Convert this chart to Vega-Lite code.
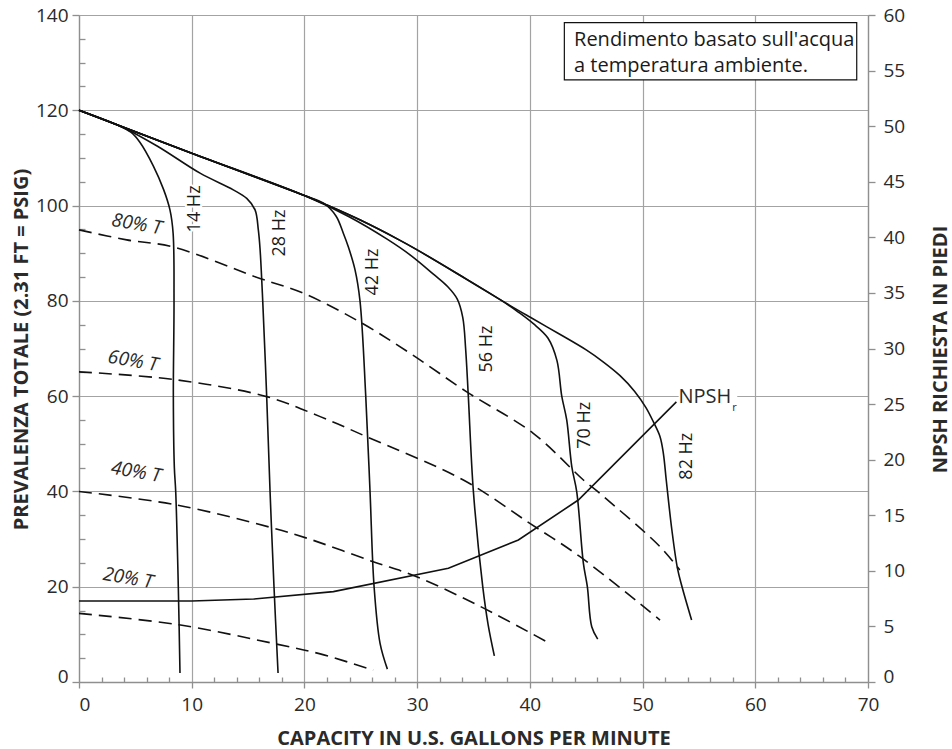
{
  "$schema": "https://vega.github.io/schema/vega-lite/v6.json",
  "width": 789,
  "height": 667,
  "autosize": {"type": "none"},
  "padding": {"left": 79, "top": 15, "right": 84, "bottom": 67},
  "background": "white",
  "config": {
    "view": {"stroke": null},
    "font": "Open Sans",
    "axis": {
      "labelFont": "Open Sans", "labelFontSize": 19, "labelColor": "#2a2a2a",
      "titleFont": "Open Sans", "titleFontSize": 20, "titleFontWeight": "bold", "titleColor": "#2a2a2a",
      "domainColor": "#8f8f8f", "tickColor": "#8f8f8f", "gridColor": "#a3a3a3",
      "domainWidth": 1.3, "tickWidth": 1.3, "gridWidth": 1.2, "labelOverlap": false, "labelFlush": false
    }
  },
  "datasets": {
    "hz": [
      {"curve": "14 Hz", "i": 0, "x": 0, "y": 120}, {"curve": "14 Hz", "i": 1, "x": 3.5, "y": 116.8}, {"curve": "14 Hz", "i": 2, "x": 4.6, "y": 115.4}, {"curve": "14 Hz", "i": 3, "x": 5.4, "y": 113.3}, {"curve": "14 Hz", "i": 4, "x": 6.6, "y": 108.3}, {"curve": "14 Hz", "i": 5, "x": 7.5, "y": 103.4}, {"curve": "14 Hz", "i": 6, "x": 8.07, "y": 99.1}, {"curve": "14 Hz", "i": 7, "x": 8.35, "y": 94.2}, {"curve": "14 Hz", "i": 8, "x": 8.43, "y": 80}, {"curve": "14 Hz", "i": 9, "x": 8.37, "y": 60}, {"curve": "14 Hz", "i": 10, "x": 8.46, "y": 45}, {"curve": "14 Hz", "i": 11, "x": 8.58, "y": 40}, {"curve": "14 Hz", "i": 12, "x": 8.81, "y": 20}, {"curve": "14 Hz", "i": 13, "x": 8.96, "y": 1.9},
      {"curve": "28 Hz", "i": 0, "x": 0, "y": 120}, {"curve": "28 Hz", "i": 1, "x": 3.9, "y": 116.4}, {"curve": "28 Hz", "i": 2, "x": 7, "y": 112.4}, {"curve": "28 Hz", "i": 3, "x": 10.74, "y": 106.8}, {"curve": "28 Hz", "i": 4, "x": 13.69, "y": 103.3}, {"curve": "28 Hz", "i": 5, "x": 14.88, "y": 101.5}, {"curve": "28 Hz", "i": 6, "x": 15.62, "y": 99.1}, {"curve": "28 Hz", "i": 7, "x": 15.91, "y": 94.9}, {"curve": "28 Hz", "i": 8, "x": 16.06, "y": 91}, {"curve": "28 Hz", "i": 9, "x": 16.3, "y": 80}, {"curve": "28 Hz", "i": 10, "x": 16.65, "y": 60}, {"curve": "28 Hz", "i": 11, "x": 16.95, "y": 40}, {"curve": "28 Hz", "i": 12, "x": 17.3, "y": 20}, {"curve": "28 Hz", "i": 13, "x": 17.66, "y": 1.9},
      {"curve": "42 Hz", "i": 0, "x": 0, "y": 120}, {"curve": "42 Hz", "i": 1, "x": 10, "y": 111}, {"curve": "42 Hz", "i": 2, "x": 20, "y": 102.1}, {"curve": "42 Hz", "i": 3, "x": 21.7, "y": 100.5}, {"curve": "42 Hz", "i": 4, "x": 22.8, "y": 97.8}, {"curve": "42 Hz", "i": 5, "x": 23.45, "y": 94.2}, {"curve": "42 Hz", "i": 6, "x": 23.9, "y": 91.3}, {"curve": "42 Hz", "i": 7, "x": 24.49, "y": 86.5}, {"curve": "42 Hz", "i": 8, "x": 24.93, "y": 80}, {"curve": "42 Hz", "i": 9, "x": 25.44, "y": 60}, {"curve": "42 Hz", "i": 10, "x": 25.82, "y": 40}, {"curve": "42 Hz", "i": 11, "x": 26.18, "y": 20}, {"curve": "42 Hz", "i": 12, "x": 26.71, "y": 8.1}, {"curve": "42 Hz", "i": 13, "x": 27.36, "y": 2.7},
      {"curve": "56 Hz", "i": 0, "x": 0, "y": 120}, {"curve": "56 Hz", "i": 1, "x": 10, "y": 111}, {"curve": "56 Hz", "i": 2, "x": 20, "y": 102.1}, {"curve": "56 Hz", "i": 3, "x": 24, "y": 97.6}, {"curve": "56 Hz", "i": 4, "x": 27.3, "y": 93}, {"curve": "56 Hz", "i": 5, "x": 29.4, "y": 89.6}, {"curve": "56 Hz", "i": 6, "x": 31.44, "y": 85.6}, {"curve": "56 Hz", "i": 7, "x": 32.7, "y": 83}, {"curve": "56 Hz", "i": 8, "x": 33.55, "y": 80.4}, {"curve": "56 Hz", "i": 9, "x": 34.05, "y": 76.5}, {"curve": "56 Hz", "i": 10, "x": 34.3, "y": 70}, {"curve": "56 Hz", "i": 11, "x": 34.54, "y": 60}, {"curve": "56 Hz", "i": 12, "x": 34.99, "y": 40}, {"curve": "56 Hz", "i": 13, "x": 35.82, "y": 20}, {"curve": "56 Hz", "i": 14, "x": 36.3, "y": 12}, {"curve": "56 Hz", "i": 15, "x": 36.85, "y": 5.5},
      {"curve": "70 Hz", "i": 0, "x": 0, "y": 120}, {"curve": "70 Hz", "i": 1, "x": 10, "y": 111}, {"curve": "70 Hz", "i": 2, "x": 20, "y": 102.1}, {"curve": "70 Hz", "i": 3, "x": 22, "y": 100.1}, {"curve": "70 Hz", "i": 4, "x": 25, "y": 96.9}, {"curve": "70 Hz", "i": 5, "x": 28.4, "y": 92.8}, {"curve": "70 Hz", "i": 6, "x": 30, "y": 90.7}, {"curve": "70 Hz", "i": 7, "x": 33.5, "y": 85.8}, {"curve": "70 Hz", "i": 8, "x": 37.4, "y": 80.2}, {"curve": "70 Hz", "i": 9, "x": 39, "y": 77.6}, {"curve": "70 Hz", "i": 10, "x": 40.31, "y": 75.2}, {"curve": "70 Hz", "i": 11, "x": 41.6, "y": 72.2}, {"curve": "70 Hz", "i": 12, "x": 42.4, "y": 67.5}, {"curve": "70 Hz", "i": 13, "x": 42.83, "y": 60}, {"curve": "70 Hz", "i": 14, "x": 43.27, "y": 55}, {"curve": "70 Hz", "i": 15, "x": 43.72, "y": 45.2}, {"curve": "70 Hz", "i": 16, "x": 44.16, "y": 39.9}, {"curve": "70 Hz", "i": 17, "x": 44.75, "y": 24.9}, {"curve": "70 Hz", "i": 18, "x": 45.1, "y": 20}, {"curve": "70 Hz", "i": 19, "x": 45.49, "y": 11.6}, {"curve": "70 Hz", "i": 20, "x": 46.02, "y": 9.0},
      {"curve": "82 Hz", "i": 0, "x": 0, "y": 120}, {"curve": "82 Hz", "i": 1, "x": 10, "y": 111}, {"curve": "82 Hz", "i": 2, "x": 20, "y": 102.1}, {"curve": "82 Hz", "i": 3, "x": 22, "y": 100.1}, {"curve": "82 Hz", "i": 4, "x": 25, "y": 96.9}, {"curve": "82 Hz", "i": 5, "x": 28.4, "y": 92.8}, {"curve": "82 Hz", "i": 6, "x": 30, "y": 90.7}, {"curve": "82 Hz", "i": 7, "x": 33.5, "y": 85.8}, {"curve": "82 Hz", "i": 8, "x": 37.4, "y": 80.2}, {"curve": "82 Hz", "i": 9, "x": 40, "y": 76.6}, {"curve": "82 Hz", "i": 10, "x": 42.5, "y": 73.2}, {"curve": "82 Hz", "i": 11, "x": 45, "y": 69.7}, {"curve": "82 Hz", "i": 12, "x": 46.5, "y": 67.2}, {"curve": "82 Hz", "i": 13, "x": 48, "y": 64.3}, {"curve": "82 Hz", "i": 14, "x": 49.3, "y": 61}, {"curve": "82 Hz", "i": 15, "x": 50.3, "y": 57.6}, {"curve": "82 Hz", "i": 16, "x": 50.96, "y": 54.6}, {"curve": "82 Hz", "i": 17, "x": 51.55, "y": 51.5}, {"curve": "82 Hz", "i": 18, "x": 51.85, "y": 47.9}, {"curve": "82 Hz", "i": 19, "x": 52.1, "y": 42.4}, {"curve": "82 Hz", "i": 20, "x": 52.6, "y": 31.9}, {"curve": "82 Hz", "i": 21, "x": 53.1, "y": 23.8}, {"curve": "82 Hz", "i": 22, "x": 53.5, "y": 20}, {"curve": "82 Hz", "i": 23, "x": 54.35, "y": 13}
    ],
    "eff": [
      {"curve": "80% T", "i": 0, "x": 0, "y": 94.9}, {"curve": "80% T", "i": 1, "x": 4.23, "y": 92.8}, {"curve": "80% T", "i": 2, "x": 8.37, "y": 91.3}, {"curve": "80% T", "i": 3, "x": 16.06, "y": 84.7}, {"curve": "80% T", "i": 4, "x": 19.9, "y": 81.6}, {"curve": "80% T", "i": 5, "x": 24.9, "y": 75.6}, {"curve": "80% T", "i": 6, "x": 29.37, "y": 69}, {"curve": "80% T", "i": 7, "x": 34.4, "y": 60.9}, {"curve": "80% T", "i": 8, "x": 40.3, "y": 52.2}, {"curve": "80% T", "i": 9, "x": 44.75, "y": 42.4}, {"curve": "80% T", "i": 10, "x": 46.2, "y": 39.6}, {"curve": "80% T", "i": 11, "x": 51.55, "y": 28.4}, {"curve": "80% T", "i": 12, "x": 53.3, "y": 23.5},
      {"curve": "60% T", "i": 0, "x": 0, "y": 65.1}, {"curve": "60% T", "i": 1, "x": 8.37, "y": 63.5}, {"curve": "60% T", "i": 2, "x": 16.65, "y": 59.9}, {"curve": "60% T", "i": 3, "x": 21.4, "y": 55.7}, {"curve": "60% T", "i": 4, "x": 25.5, "y": 51.5}, {"curve": "60% T", "i": 5, "x": 34.1, "y": 42.4}, {"curve": "60% T", "i": 6, "x": 40, "y": 33.3}, {"curve": "60% T", "i": 7, "x": 44.45, "y": 26.3}, {"curve": "60% T", "i": 8, "x": 51.55, "y": 13},
      {"curve": "40% T", "i": 0, "x": 0, "y": 40}, {"curve": "40% T", "i": 1, "x": 8.58, "y": 37.2}, {"curve": "40% T", "i": 2, "x": 17.24, "y": 32.3}, {"curve": "40% T", "i": 3, "x": 20.2, "y": 30.2}, {"curve": "40% T", "i": 4, "x": 26.1, "y": 25.25}, {"curve": "40% T", "i": 5, "x": 29.96, "y": 22.1}, {"curve": "40% T", "i": 6, "x": 35.9, "y": 15.5}, {"curve": "40% T", "i": 7, "x": 41.6, "y": 8.3},
      {"curve": "20% T", "i": 0, "x": 0, "y": 14.4}, {"curve": "20% T", "i": 1, "x": 8.87, "y": 12}, {"curve": "20% T", "i": 2, "x": 17.24, "y": 8.1}, {"curve": "20% T", "i": 3, "x": 21.4, "y": 5.9}, {"curve": "20% T", "i": 4, "x": 26.1, "y": 2.5}
    ],
    "npsh": [
      {"x": 0, "n": 7.29}, {"x": 10, "n": 7.29}, {"x": 15.5, "n": 7.46}, {"x": 22.57, "n": 8.13}, {"x": 32.77, "n": 10.23}, {"x": 38.98, "n": 12.77}, {"x": 44.3, "n": 16.37}, {"x": 53, "n": 25.2}
    ],
    "hzlab": [
      {"label": "14 Hz", "x": 10.29, "y": 99.3}, {"label": "28 Hz", "x": 17.79, "y": 94.25}, {"label": "42 Hz", "x": 26.09, "y": 86.06},
      {"label": "56 Hz", "x": 36.18, "y": 69.9}, {"label": "70 Hz", "x": 44.9, "y": 53.9}, {"label": "82 Hz", "x": 53.9, "y": 47.4}
    ],
    "efflab": [
      {"label": "80% T", "x": 5.12, "y": 96.1}, {"label": "60% T", "x": 4.79, "y": 67.4}, {"label": "40% T", "x": 5.06, "y": 44.1}, {"label": "20% T", "x": 4.35, "y": 21.8}
    ],
    "box": [{"x": 43.06, "x2": 69.0, "y": 126.4, "y2": 138.4}],
    "boxtext": [{"text": "Rendimento basato sull'acqua", "x": 43.92, "y": 133.5}, {"text": "a temperatura ambiente.", "x": 43.92, "y": 128.1}],
    "npshbg": [{"x": 53.2, "x2": 58.4, "y": 58.2, "y2": 61.8}],
    "npshlab": [{"text": "NPSH", "x": 53.18, "y": 58.5}],
    "npshsub": [{"text": "r", "x": 57.95, "y": 56.9}]
  },
  "layer": [
    {
      "data": {"name": "hz"},
      "mark": {"type": "line", "color": "#111111", "strokeWidth": 1.6, "interpolate": "catmull-rom"},
      "encoding": {
        "x": {
          "field": "x", "type": "quantitative",
          "scale": {"domain": [0, 70], "nice": false},
          "axis": {
            "orient": "bottom",
            "values": [0, 2, 4, 6, 8, 10, 12, 14, 16, 18, 20, 22, 24, 26, 28, 30, 32, 34, 36, 38, 40, 42, 44, 46, 48, 50, 52, 54, 56, 58, 60, 62, 64, 66, 68, 70],
            "labelExpr": "datum.value % 10 === 0 ? datum.label : ''",
            "tickSize": {"condition": {"test": "datum.value % 10 === 0", "value": 6}, "value": -5},
            "gridOpacity": {"condition": {"test": "datum.value % 10 === 0", "value": 1}, "value": 0},
            "labelAlign": {"condition": {"test": "datum.value === 0", "value": "left"}, "value": "center"},
            "labelPadding": 7,
            "title": "CAPACITY IN U.S. GALLONS PER MINUTE",
            "titleBaseline": "alphabetic", "titleY": 62
          }
        },
        "y": {
          "field": "y", "type": "quantitative",
          "scale": {"domain": [0, 140], "nice": false},
          "axis": {
            "orient": "left",
            "values": [0, 5, 10, 15, 20, 25, 30, 35, 40, 45, 50, 55, 60, 65, 70, 75, 80, 85, 90, 95, 100, 105, 110, 115, 120, 125, 130, 135, 140],
            "labelExpr": "datum.value % 20 === 0 ? datum.label : ''",
            "tickSize": {"condition": {"test": "datum.value % 20 === 0", "value": 7}, "value": -6},
            "gridOpacity": {"condition": {"test": "datum.value % 20 === 0", "value": 1}, "value": 0},
            "labelBaseline": {"condition": {"test": "datum.value === 0", "value": "alphabetic"}, "value": "middle"},
            "labelPadding": 4,
            "title": "PREVALENZA TOTALE (2.31 FT = PSIG)",
            "titleAngle": 270, "titleAlign": "center", "titleBaseline": "alphabetic", "titleX": -52, "titleY": 334
          }
        },
        "detail": {"field": "curve"},
        "order": {"field": "i", "type": "quantitative"}
      }
    },
    {
      "data": {"name": "eff"},
      "mark": {"type": "line", "color": "#111111", "strokeWidth": 1.6, "strokeDash": [13, 7], "interpolate": "catmull-rom"},
      "encoding": {
        "x": {"field": "x", "type": "quantitative", "axis": null},
        "y": {"field": "y", "type": "quantitative", "scale": {"domain": [0, 140], "nice": false}, "axis": null},
        "detail": {"field": "curve"},
        "order": {"field": "i", "type": "quantitative"}
      }
    },
    {
      "data": {"name": "hzlab"},
      "mark": {"type": "text", "angle": 270, "align": "center", "baseline": "middle", "font": "Open Sans", "fontSize": 18, "color": "white", "stroke": "white", "strokeWidth": 4},
      "encoding": {
        "x": {"field": "x", "type": "quantitative", "axis": null},
        "y": {"field": "y", "type": "quantitative", "scale": {"domain": [0, 140], "nice": false}, "axis": null},
        "text": {"field": "label"}
      }
    },
    {
      "data": {"name": "hzlab"},
      "mark": {"type": "text", "angle": 270, "align": "center", "baseline": "middle", "font": "Open Sans", "fontSize": 18, "color": "#1a1a1a"},
      "encoding": {
        "x": {"field": "x", "type": "quantitative", "axis": null},
        "y": {"field": "y", "type": "quantitative", "scale": {"domain": [0, 140], "nice": false}, "axis": null},
        "text": {"field": "label"}
      }
    },
    {
      "data": {"name": "efflab"},
      "mark": {"type": "text", "angle": 10, "align": "center", "baseline": "middle", "font": "Open Sans", "fontStyle": "italic", "fontSize": 19, "color": "#2a2a2a"},
      "encoding": {
        "x": {"field": "x", "type": "quantitative", "axis": null},
        "y": {"field": "y", "type": "quantitative", "scale": {"domain": [0, 140], "nice": false}, "axis": null},
        "text": {"field": "label"}
      }
    },
    {
      "data": {"name": "box"},
      "mark": {"type": "rect", "fill": "white", "stroke": "#111111", "strokeWidth": 1.2},
      "encoding": {
        "x": {"field": "x", "type": "quantitative", "axis": null},
        "x2": {"field": "x2"},
        "y": {"field": "y", "type": "quantitative", "scale": {"domain": [0, 140], "nice": false}, "axis": null},
        "y2": {"field": "y2"}
      }
    },
    {
      "data": {"name": "boxtext"},
      "mark": {"type": "text", "align": "left", "baseline": "alphabetic", "font": "Open Sans", "fontSize": 20, "color": "#1a1a1a"},
      "encoding": {
        "x": {"field": "x", "type": "quantitative", "axis": null},
        "y": {"field": "y", "type": "quantitative", "scale": {"domain": [0, 140], "nice": false}, "axis": null},
        "text": {"field": "text"}
      }
    },
    {
      "data": {"name": "npshbg"},
      "mark": {"type": "rect", "fill": "white"},
      "encoding": {
        "x": {"field": "x", "type": "quantitative", "axis": null},
        "x2": {"field": "x2"},
        "y": {"field": "y", "type": "quantitative", "scale": {"domain": [0, 140], "nice": false}, "axis": null},
        "y2": {"field": "y2"}
      }
    },
    {
      "data": {"name": "npshlab"},
      "mark": {"type": "text", "align": "left", "baseline": "alphabetic", "font": "Open Sans", "fontSize": 20, "color": "#2a2a2a"},
      "encoding": {
        "x": {"field": "x", "type": "quantitative", "axis": null},
        "y": {"field": "y", "type": "quantitative", "scale": {"domain": [0, 140], "nice": false}, "axis": null},
        "text": {"field": "text"}
      }
    },
    {
      "data": {"name": "npshsub"},
      "mark": {"type": "text", "align": "left", "baseline": "alphabetic", "font": "Open Sans", "fontSize": 11, "color": "#2a2a2a"},
      "encoding": {
        "x": {"field": "x", "type": "quantitative", "axis": null},
        "y": {"field": "y", "type": "quantitative", "scale": {"domain": [0, 140], "nice": false}, "axis": null},
        "text": {"field": "text"}
      }
    },
    {
      "data": {"name": "npsh"},
      "mark": {"type": "line", "color": "#111111", "strokeWidth": 1.6},
      "encoding": {
        "x": {"field": "x", "type": "quantitative", "axis": null},
        "y": {
          "field": "n", "type": "quantitative",
          "scale": {"domain": [0, 60], "nice": false},
          "axis": {
            "orient": "right",
            "values": [0, 5, 10, 15, 20, 25, 30, 35, 40, 45, 50, 55, 60],
            "grid": false,
            "tickSize": 7,
            "labelPadding": 8,
            "labelBaseline": {"condition": {"test": "datum.value === 0", "value": "alphabetic"}, "value": "middle"},
            "title": "NPSH RICHIESTA IN PIEDI",
            "titleAngle": 270, "titleAlign": "center", "titleBaseline": "alphabetic", "titleX": 78, "titleY": 334
          }
        }
      }
    }
  ],
  "resolve": {"scale": {"y": "independent"}, "axis": {"x": "independent", "y": "independent"}}
}
